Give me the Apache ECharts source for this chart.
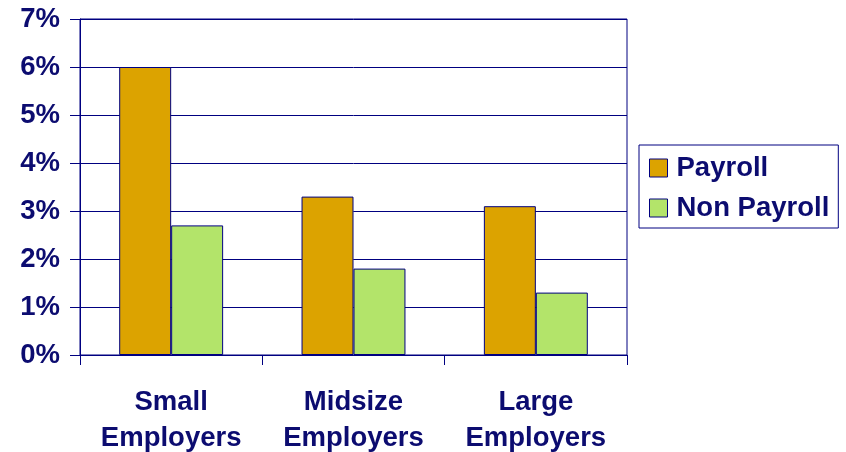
<!DOCTYPE html>
<html>
<head>
<meta charset="utf-8">
<script src="https://cdn.jsdelivr.net/npm/echarts@6/dist/echarts.min.js"></script>
<style>
  html, body { margin: 0; padding: 0; background: #ffffff; }
  #chart { width: 846px; height: 452px; }
</style>
</head>
<body>
<div id="chart"></div>
<script>
// Employer size groups and cost shares (percent)
const categories = ['Small\nEmployers', 'Midsize\nEmployers', 'Large\nEmployers'];
const payroll = [6.0, 3.3, 3.1];
const nonPayroll = [2.7, 1.8, 1.3];
const seriesNames = ['Payroll', 'Non Payroll'];
const yTicks = { min: 0, max: 7, interval: 1 };

const navy = '#000080';
const textNavy = '#0c0c70';
const fontFamily = '"Liberation Sans", Arial, sans-serif';
const fontSize = 27.5;

const chart = echarts.init(document.getElementById('chart'), null, { renderer: 'canvas' });

chart.setOption({
  animation: false,
  backgroundColor: '#ffffff',
  grid: {
    left: 80, right: 219, top: 19, bottom: 97,
    containLabel: false,
    outerBoundsMode: 'none',
    show: true, borderColor: navy, borderWidth: 1
  },
  legend: {
    orient: 'vertical',
    left: 639, top: 145,
    padding: [8, 9, 5, 10],
    itemGap: 10,
    itemWidth: 18, itemHeight: 18,
    borderColor: navy, borderWidth: 1,
    icon: 'rect',
    itemStyle: { borderColor: navy, borderWidth: 1 },
    textStyle: {
      color: textNavy, fontSize: fontSize, fontWeight: 'bold',
      fontFamily: fontFamily, lineHeight: 30, padding: [0, 0, 0, 4]
    },
    data: seriesNames
  },
  xAxis: {
    type: 'category',
    data: categories,
    axisLine: { lineStyle: { color: navy, width: 1 } },
    axisTick: { show: true, length: 10, inside: false, lineStyle: { color: navy } },
    axisLabel: {
      color: textNavy, fontSize: fontSize, fontWeight: 'bold',
      fontFamily: fontFamily, lineHeight: 36, margin: 29, interval: 0
    },
    splitLine: { show: false }
  },
  yAxis: {
    type: 'value',
    min: yTicks.min, max: yTicks.max, interval: yTicks.interval,
    axisLine: { show: true, lineStyle: { color: navy, width: 1 } },
    axisTick: { show: true, length: 10, lineStyle: { color: navy } },
    axisLabel: {
      color: textNavy, fontSize: fontSize, fontWeight: 'bold',
      fontFamily: fontFamily, margin: 20,
      formatter: v => v + '%'
    },
    splitLine: { show: true, lineStyle: { color: navy, width: 1 } }
  },
  series: [
    {
      name: seriesNames[0], type: 'bar', data: payroll,
      barGap: '0%', barCategoryGap: '43%',
      itemStyle: { color: '#dca300', borderColor: navy, borderWidth: 1 }
    },
    {
      name: seriesNames[1], type: 'bar', data: nonPayroll,
      barGap: '0%', barCategoryGap: '43%',
      itemStyle: { color: '#b3e46a', borderColor: navy, borderWidth: 1 }
    }
  ]
});
</script>
</body>
</html>
